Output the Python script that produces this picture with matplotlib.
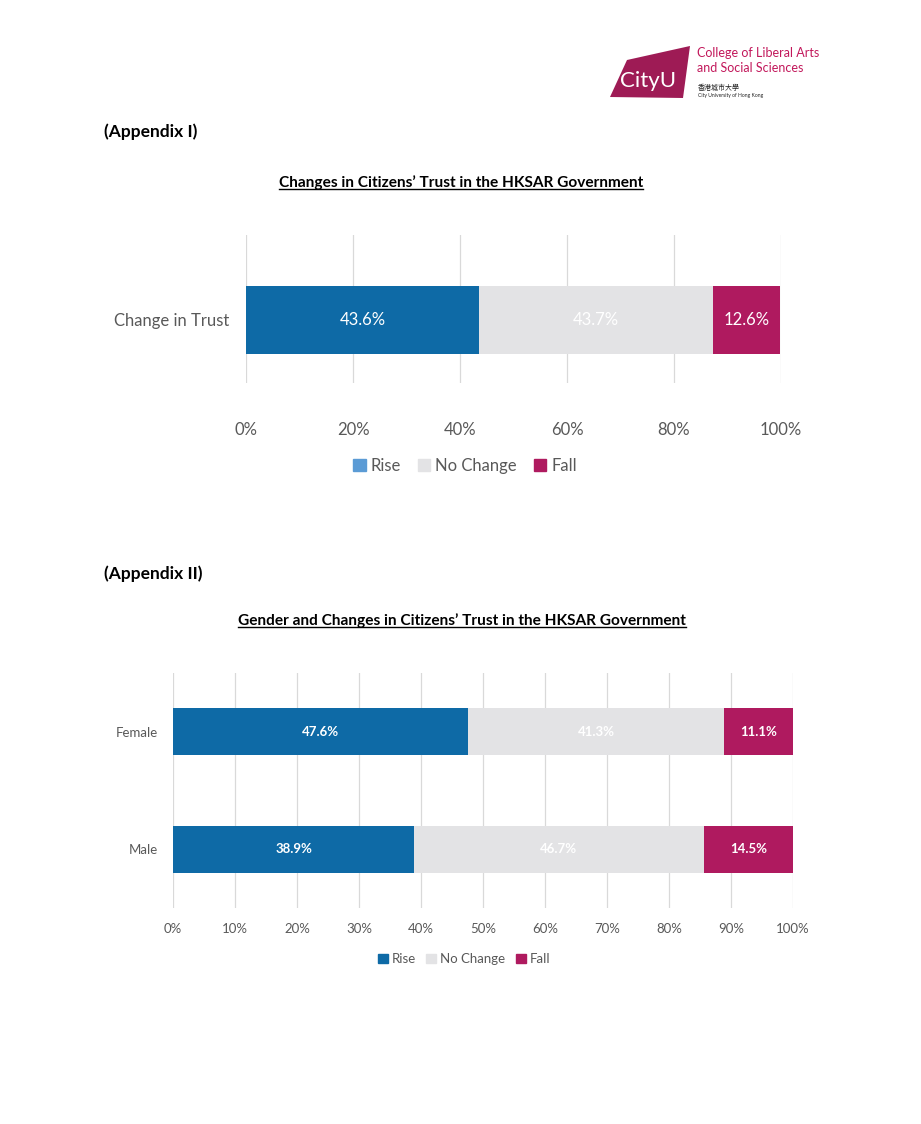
import matplotlib.pyplot as plt
from matplotlib.patches import Patch, Polygon

plt.rcParams['font.family'] = ['Lato', 'Noto Sans CJK TC', 'DejaVu Sans']

# data
series = ['Rise', 'No Change', 'Fall']
trust_cats = ['Change in Trust']
trust_vals = {'Rise': [43.6], 'No Change': [43.7], 'Fall': [12.6]}

gender_cats = ['Male', 'Female']
gender_vals = {'Rise': [38.9, 47.6], 'No Change': [46.7, 41.3], 'Fall': [14.5, 11.1]}

bar_cols = {'Rise': '#0E6AA6', 'No Change': '#E3E3E5', 'Fall': '#AF1A5F'}
leg1_cols = {'Rise': '#5B9BD5', 'No Change': '#E3E3E5', 'Fall': '#AF1A5F'}
grid_col = '#D9D9D9'
txt_col = '#595959'

W, H = 921, 1124
fig = plt.figure(figsize=(W / 100, H / 100), dpi=100)


def ax_px(x0, x1, y0, y1):
    # pixel box (top-left origin) -> figure axes
    return fig.add_axes([x0 / W, 1 - y1 / H, (x1 - x0) / W, (y1 - y0) / H])


def stacked(ax, cats, vals, height, fs, bold):
    left = [0] * len(cats)
    for s in series:
        v = vals[s]
        ax.barh(range(len(cats)), v, left=left, height=height, color=bar_cols[s], zorder=2)
        for i, x in enumerate(v):
            ax.text(left[i] + x / 2, i, f'{x:.1f}%', ha='center', va='center', color='white',
                    fontsize=fs, fontweight='bold' if bold else 'normal', zorder=3)
        left = [a + b for a, b in zip(left, v)]
    ax.set_xlim(0, 100)
    ax.grid(axis='x', color=grid_col, linewidth=0.9, zorder=0)
    ax.set_axisbelow(True)
    for sp in ax.spines.values():
        sp.set_visible(False)
    ax.set_yticks(range(len(cats)))
    ax.set_yticklabels(cats)
    ax.tick_params(length=0, colors=txt_col)


# ---- header / logo
logo = Polygon([[610 / W, 1 - 97 / H], [627 / W, 1 - 60 / H], [690 / W, 1 - 46 / H], [683 / W, 1 - 98 / H]],
               closed=True, transform=fig.transFigure, facecolor='#9E1B55', edgecolor='none')
fig.patches.append(logo)
fig.text(648 / W, 1 - 81 / H, 'CityU', color='white', fontsize=16, ha='center', va='center')
fig.text(697 / W, 1 - 53 / H, 'College of Liberal Arts', color='#C2185B', fontsize=9, va='center')
fig.text(697 / W, 1 - 68 / H, 'and Social Sciences', color='#C2185B', fontsize=9, va='center')
fig.text(698 / W, 1 - 87 / H, '香港城市大學', color='#222222', fontsize=5, va='center')
fig.text(698 / W, 1 - 96 / H, 'City University of Hong Kong', color='#222222', fontsize=3.6, va='center')

# ---- Appendix I
fig.text(104 / W, 1 - 132 / H, '(Appendix I)', fontsize=12.5, fontweight='bold', va='center')
fig.text(461 / W, 1 - 183 / H, 'Changes in Citizens\u2019 Trust in the HKSAR Government',
         fontsize=11.1, fontweight='bold', ha='center', va='center')
ax1 = ax_px(246, 781, 235, 383)
stacked(ax1, trust_cats, trust_vals, 0.6, 12, False)
ax1.set_ylim(-0.556, 0.75)
ax1.set_xticks(range(0, 101, 20))
ax1.set_xticklabels([f'{t}%' for t in range(0, 101, 20)])
ax1.tick_params(axis='x', labelsize=12, pad=28)
ax1.tick_params(axis='y', labelsize=12, pad=12)
fig.legend([Patch(color=leg1_cols[s]) for s in series], series, loc='center',
           bbox_to_anchor=(465 / W, 1 - 466 / H), ncol=3, frameon=False, fontsize=12,
           handlelength=0.75, handleheight=0.75, handletextpad=0.3, columnspacing=1.0,
           labelcolor=txt_col)

# ---- Appendix II
fig.text(104 / W, 1 - 574 / H, '(Appendix II)', fontsize=12.5, fontweight='bold', va='center')
fig.text(462 / W, 1 - 621 / H, 'Gender and Changes in Citizens\u2019 Trust in the HKSAR Government',
         fontsize=11.1, fontweight='bold', ha='center', va='center')
ax2 = ax_px(173, 793, 673, 908)
stacked(ax2, gender_cats, gender_vals, 0.4, 9.5, True)
ax2.set_ylim(-0.5, 1.5)
ax2.set_xticks(range(0, 101, 10))
ax2.set_xticklabels([f'{t}%' for t in range(0, 101, 10)])
ax2.tick_params(axis='x', labelsize=9.5, pad=11)
ax2.tick_params(axis='y', labelsize=9.5, pad=11)
fig.legend([Patch(color=bar_cols[s]) for s in series], series, loc='center',
           bbox_to_anchor=(464 / W, 1 - 959 / H), ncol=3, frameon=False, fontsize=9.5,
           handlelength=0.75, handleheight=0.75, handletextpad=0.3, columnspacing=0.8,
           labelcolor=txt_col)

fig.canvas.draw()
# underline the two titles
for t in fig.texts:
    if 'Government' in t.get_text():
        bb = t.get_window_extent()
        y = bb.y0 + 1
        fig.add_artist(plt.Line2D([bb.x0 / W, bb.x1 / W], [y / H, y / H], color='black', linewidth=1,
                                  transform=fig.transFigure))

fig.savefig('out.png', dpi=100, facecolor='white')
